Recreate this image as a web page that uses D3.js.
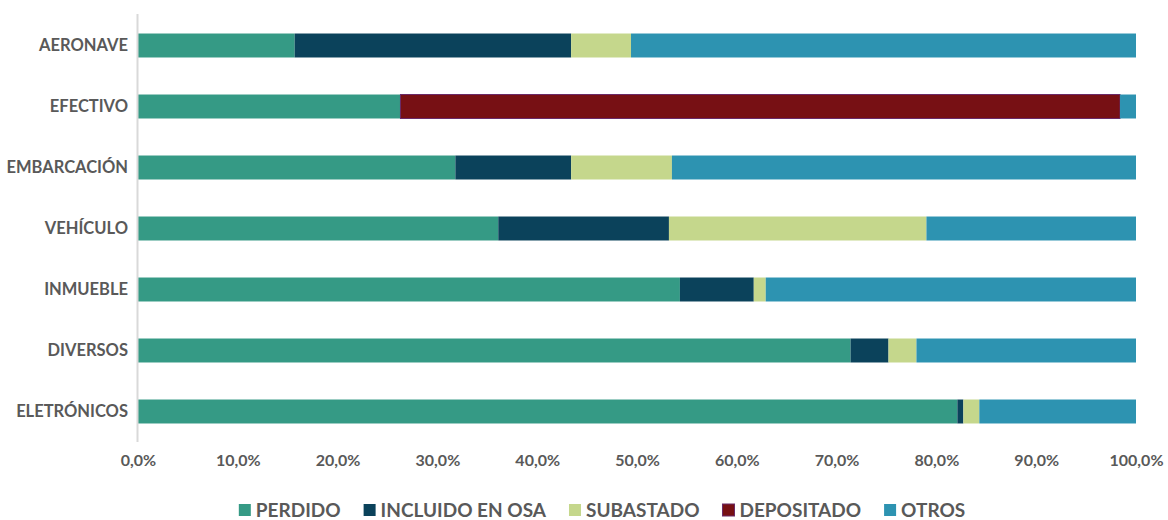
<!DOCTYPE html>
<html><head><meta charset="utf-8">
<script src="https://cdn.jsdelivr.net/npm/d3@7"></script>
<style>body{margin:0;background:#fff}svg{display:block}</style>
</head><body><svg id="c" width="1168" height="520"></svg>
<script>
const categories = ["AERONAVE","EFECTIVO","EMBARCACIÓN","VEHÍCULO","INMUEBLE","DIVERSOS","ELETRÓNICOS"];
const seriesNames = ["PERDIDO","INCLUIDO EN OSA","SUBASTADO","DEPOSITADO","OTROS"];
const perdido    = [15.7, 26.3, 31.8, 36.1, 54.3, 71.4, 82.1];
const incluidoOsa= [27.7,  0.0, 11.6, 17.1,  7.4,  3.8,  0.6];
const subastado  = [ 6.0,  0.0, 10.1, 25.8,  1.2,  2.8,  1.6];
const depositado = [ 0.0, 72.1,  0.0,  0.0,  0.0,  0.0,  0.0];
const otros      = [50.6,  1.6, 46.5, 21.0, 37.1, 22.0, 15.7];
const tickValues = [0,10,20,30,40,50,60,70,80,90,100];
const colors = ["#359A85","#0B425B","#C5D78C","#771014","#2D93B1"];

const svg = d3.select("#c");
const font = "Lato, 'Open Sans', sans-serif";
const x = d3.scaleLinear().domain([0,100]).range([138,1136]);
const y = d3.scaleBand().domain(categories).range([15,442]).paddingInner(0.607).paddingOuter(0.3035);

const rows = categories.map((c,i)=>({cat:c, PERDIDO:perdido[i], "INCLUIDO EN OSA":incluidoOsa[i], SUBASTADO:subastado[i], DEPOSITADO:depositado[i], OTROS:otros[i]}));
const stack = d3.stack().keys(seriesNames)(rows);
const color = d3.scaleOrdinal().domain(seriesNames).range(colors);

svg.append("g").selectAll("g").data(stack).join("g")
  .attr("fill", d=>color(d.key))
  .attr("stroke", d=>d.key==="DEPOSITADO" ? "#6a2a68" : null)
  .attr("stroke-width", 1)
  .selectAll("rect").data(d=>d.filter(v=>v[1]-v[0]>0)).join("rect")
  .attr("x", d=>x(d[0]))
  .attr("width", d=>x(d[1])-x(d[0]))
  .attr("y", d=>y(d.data.cat))
  .attr("height", y.bandwidth());

// vertical axis line
svg.append("line").attr("x1",137.5).attr("x2",137.5).attr("y1",14).attr("y2",442)
  .attr("stroke","#d9d9d9").attr("stroke-width",2);

// y labels
const ya = svg.append("g").attr("transform","translate(128,0)")
  .call(d3.axisLeft(y).tickSize(0).tickPadding(0));
ya.select(".domain").remove();
ya.selectAll("text").attr("font-family",font).attr("font-weight","bold").attr("font-size","16.5px").attr("fill","#595959");

// x labels
const xa = svg.append("g").attr("transform","translate(0,450)")
  .call(d3.axisBottom(x).tickValues(tickValues).tickSize(0).tickPadding(0).tickFormat(d=>d3.format(".1f")(d).replace(".",",")+"%"));
xa.select(".domain").remove();
xa.selectAll("text").attr("font-family",font).attr("font-weight","bold").attr("font-size","16px").attr("fill","#595959").attr("dy","1em");

// legend
const lg = svg.append("g");
const items = lg.selectAll("g").data(seriesNames).join("g");
items.append("rect").attr("width",12).attr("height",12).attr("y",504)
  .attr("fill",d=>color(d)).attr("stroke",d=>d==="DEPOSITADO"?"#6a2a68":null);
items.append("text").attr("x",17).attr("y",516.5).text(d=>d)
  .attr("font-family",font).attr("font-weight","bold").attr("font-size","19px").attr("fill","#595959");
const gap = 23; const widths=[];
items.each(function(){ widths.push(17 + this.querySelector("text").getComputedTextLength()); });
const total = d3.sum(widths) + gap*(widths.length-1);
let cx = 602 - total/2;
items.attr("transform",(d,i)=>{ const t = `translate(${cx},0)`; cx += widths[i]+gap; return t; });
</script></body></html>
